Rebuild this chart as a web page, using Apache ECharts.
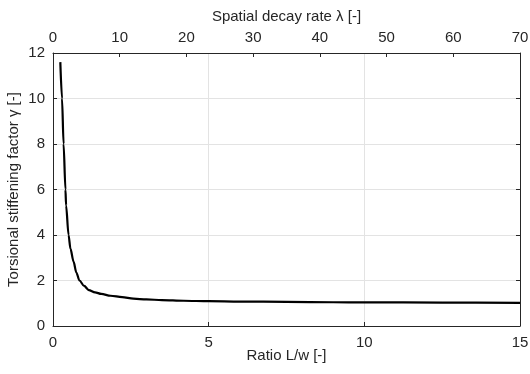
<!DOCTYPE html>
<html>
<head>
<meta charset="utf-8">
<script src="https://cdn.jsdelivr.net/npm/echarts@6/dist/echarts.min.js"></script>
<style>
  html, body { margin: 0; padding: 0; background: #fff; }
  #chart { width: 530px; height: 374px; }
</style>
</head>
<body>
<div id="chart"></div>
<script>
// values
const ratioLw = [0.235, 0.29, 0.34, 0.40, 0.42, 0.50, 0.56, 0.66, 0.75, 0.85, 1.0, 1.15, 1.35, 1.55, 1.85, 2.22, 2.58, 3.0, 3.5, 4.2, 5, 6, 7.5, 9, 10, 12.5, 15]
const gamma = [11.6, 10.0, 8.0, 6.0, 5.3, 4.0, 3.4, 2.83, 2.35, 2.0, 1.76, 1.58, 1.48, 1.41, 1.33, 1.27, 1.20, 1.17, 1.14, 1.11, 1.09, 1.075, 1.06, 1.045, 1.04, 1.03, 1.02]
const xTicks = [0, 5, 10, 15]
const lambdaTicks = [0, 10, 20, 30, 40, 50, 60, 70]
const yTicks = [0, 2, 4, 6, 8, 10, 12]

const font = 'Liberation Sans, Arial, sans-serif'
const axisBlack = { onZero: false, lineStyle: { color: '#262626', width: 1 } }

let myChart = echarts.init(document.getElementById('chart'))
let option = {
  animation: false,
  grid: {
    left: 53,
    right: 10,
    top: 53,
    bottom: 48,
    outerBoundsMode: 'none'
  },
  xAxis: [
    {
      type: 'value',
      position: 'bottom',
      min: xTicks[0],
      max: xTicks[xTicks.length - 1],
      interval: 5,
      name: 'Ratio L/w [-]',
      nameLocation: 'middle',
      nameGap: 22,
      nameMoveOverlap: false,
      nameTextStyle: { color: '#262626', fontSize: 15, fontFamily: font },
      axisLine: axisBlack,
      axisTick: { inside: true, length: 4, lineStyle: { color: '#262626' } },
      axisLabel: { color: '#262626', fontSize: 15, fontFamily: font, margin: 9 },
      splitLine: { show: true, lineStyle: { color: '#e3e3e3', width: 1 } }
    },
    {
      type: 'value',
      position: 'top',
      min: lambdaTicks[0],
      max: lambdaTicks[lambdaTicks.length - 1],
      interval: 10,
      name: 'Spatial decay rate λ [-]',
      nameLocation: 'middle',
      nameGap: 29,
      nameMoveOverlap: false,
      nameTextStyle: { color: '#262626', fontSize: 15, fontFamily: font },
      axisLine: axisBlack,
      axisTick: { inside: true, length: 4, lineStyle: { color: '#262626' } },
      axisLabel: { color: '#262626', fontSize: 15, fontFamily: font, margin: 8 },
      splitLine: { show: false }
    }
  ],
  yAxis: [
    {
      type: 'value',
      position: 'left',
      min: yTicks[0],
      max: yTicks[yTicks.length - 1],
      interval: 2,
      name: 'Torsional stiffening factor γ [-]',
      nameLocation: 'middle',
      nameGap: 32,
      nameMoveOverlap: false,
      nameTextStyle: { color: '#262626', fontSize: 15, fontFamily: font },
      axisLine: { show: true, onZero: false, lineStyle: { color: '#262626', width: 1 } },
      axisTick: { show: true, inside: true, length: 4, lineStyle: { color: '#262626' } },
      axisLabel: { color: '#262626', fontSize: 15, fontFamily: font, margin: 8 },
      splitLine: { show: true, lineStyle: { color: '#e3e3e3', width: 1 } }
    },
    {
      type: 'value',
      position: 'right',
      min: yTicks[0],
      max: yTicks[yTicks.length - 1],
      interval: 2,
      axisLine: { show: true, onZero: false, lineStyle: { color: '#262626', width: 1 } },
      axisTick: { show: true, inside: true, length: 4, lineStyle: { color: '#262626' } },
      axisLabel: { show: false },
      splitLine: { show: false }
    }
  ],
  series: [
    {
      type: 'line',
      xAxisIndex: 0,
      yAxisIndex: 0,
      data: ratioLw.map((x, i) => [x, gamma[i]]),
      showSymbol: false,
      smooth: 0.3,
      smoothMonotone: 'x',
      lineStyle: { color: '#000', width: 2.2 }
    }
  ]
}
myChart.setOption(option, true)
</script>
</body>
</html>
